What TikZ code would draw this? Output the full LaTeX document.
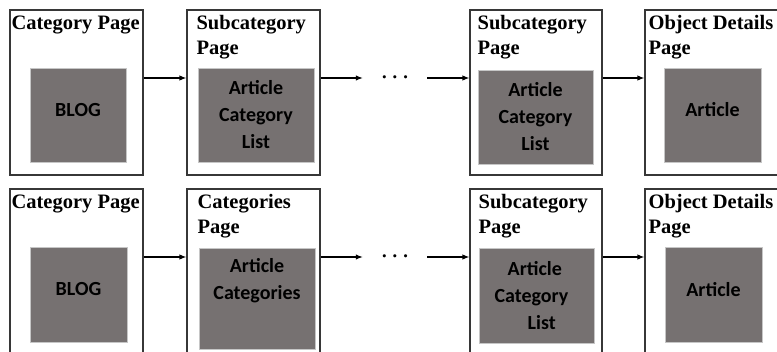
\documentclass[tikz,border=0pt]{standalone}
\usepackage{fontspec}
\setmainfont{Liberation Serif}
\newfontfamily\boxfont{Carlito}
\usetikzlibrary{arrows.meta,positioning}
\definecolor{boxgray}{RGB}{118,113,113}
\definecolor{pageedge}{RGB}{55,55,55}

\begin{document}
\begin{tikzpicture}[x=1pt,y=-1pt,
    page/.style={draw=pageedge,line width=1.2pt,rectangle,minimum height=165pt,inner sep=0pt},
    pagetitle/.style={anchor=north west,inner sep=0pt,align=left,font=\bfseries\fontsize{20.5}{25}\selectfont},
    content/.style={fill=boxgray,draw=gray!45,line width=0.5pt,inner sep=0pt},
    contenttext/.style={inner sep=0pt,align=center,text=black,font=\boxfont\bfseries\fontsize{20}{27}\selectfont},
    flow/.style={-{Latex[length=7pt,width=5.5pt]},line width=1.2pt},
    skipdots/.style={minimum width=64pt,inner sep=0pt,font=\fontsize{22}{22}\selectfont\boldmath}]

    % Frame
    \useasboundingbox (0,0) rectangle (777,352);
    \clip (0,0) rectangle (777,352);

    % Top row: pages
    \node[page,minimum width=133pt] (t1) at (76.5,92.5) {};
    \node[page,minimum width=133pt] (t2) at (253.5,92.5) {};
    \node[page,minimum width=132pt] (t3) at (536,92.5) {};
    \node[page,minimum width=140pt] (t4) at (715,92.5) {};

    \node[pagetitle] (t1title) at ([xshift=2pt,yshift=-6pt]t1.north west) {Category Page};
    \node[pagetitle] (t2title) at ([xshift=10pt,yshift=-6pt]t2.north west) {Subcategory\\Page};
    \node[pagetitle] (t3title) at ([xshift=8pt,yshift=-6pt]t3.north west) {Subcategory\\Page};
    \node[pagetitle] (t4title) at ([xshift=4pt,yshift=-6pt]t4.north west) {Object Details\\Page};

    % Top row: contents
    \node[content,minimum width=96pt,minimum height=94pt] (t1body) at (78,115) {};
    \node[content,minimum width=116pt,minimum height=94pt] (t2body) at (256,115) {};
    \node[content,minimum width=115pt,minimum height=94pt] (t3body) at (535.5,117) {};
    \node[content,minimum width=97pt,minimum height=94pt] (t4body) at (712.5,115) {};

    \node[contenttext] (t1text) at ([yshift=5pt]t1body.center) {BLOG};
    \node[contenttext] (t2text) at (t2body.center) {Article\\Category\\List};
    \node[contenttext] (t3text) at (t3body.center) {Article\\Category\\List};
    \node[contenttext] (t4text) at ([yshift=5pt]t4body.center) {Article};

    % Top row: links
    \coordinate (trow) at (0,78);
    \node[skipdots] (tdots) at (395,78) {$\cdots$};
    \draw[flow] (t1.east |- trow) -- (t2.west |- trow);
    \draw[flow] (t2.east |- trow) -- (tdots.west |- trow);
    \draw[flow] (tdots.east |- trow) -- (t3.west |- trow);
    \draw[flow] (t3.east |- trow) -- (t4.west |- trow);

    % Bottom row: pages
    \node[page,minimum width=133pt] (b1) at (76.5,271.5) {};
    \node[page,minimum width=133pt] (b2) at (253.5,271.5) {};
    \node[page,minimum width=132pt] (b3) at (536,271.5) {};
    \node[page,minimum width=140pt] (b4) at (715,271.5) {};

    \node[pagetitle] (b1title) at ([xshift=2pt,yshift=-6pt]b1.north west) {Category Page};
    \node[pagetitle] (b2title) at ([xshift=11pt,yshift=-6pt]b2.north west) {Categories\\Page};
    \node[pagetitle] (b3title) at ([xshift=9pt,yshift=-6pt]b3.north west) {Subcategory\\Page};
    \node[pagetitle] (b4title) at ([xshift=4pt,yshift=-6pt]b4.north west) {Object Details\\Page};

    % Bottom row: contents
    \node[content,minimum width=97pt,minimum height=95pt] (b1body) at (78.5,294.5) {};
    \node[content,minimum width=116pt,minimum height=101pt] (b2body) at (257,298.5) {};
    \node[content,minimum width=115pt,minimum height=95pt] (b3body) at (536.5,295.5) {};
    \node[content,minimum width=97pt,minimum height=95pt] (b4body) at (713.5,294.5) {};

    \node[contenttext] (b1text) at ([yshift=5pt]b1body.center) {BLOG};
    \node[contenttext] (b2text) at ([yshift=18pt]b2body.center) {Article\\Categories};
    \node[contenttext,align=left] (b3text) at ([xshift=-5pt]b3body.center) {\hspace*{13pt}Article\\Category\\\hspace*{33pt}List};
    \node[contenttext] (b4text) at ([yshift=5pt]b4body.center) {Article};

    % Bottom row: links
    \coordinate (brow) at (0,257);
    \node[skipdots] (bdots) at (395,257) {$\cdots$};
    \draw[flow] (b1.east |- brow) -- (b2.west |- brow);
    \draw[flow] (b2.east |- brow) -- (bdots.west |- brow);
    \draw[flow] (bdots.east |- brow) -- (b3.west |- brow);
    \draw[flow] (b3.east |- brow) -- (b4.west |- brow);
\end{tikzpicture}
\end{document}
